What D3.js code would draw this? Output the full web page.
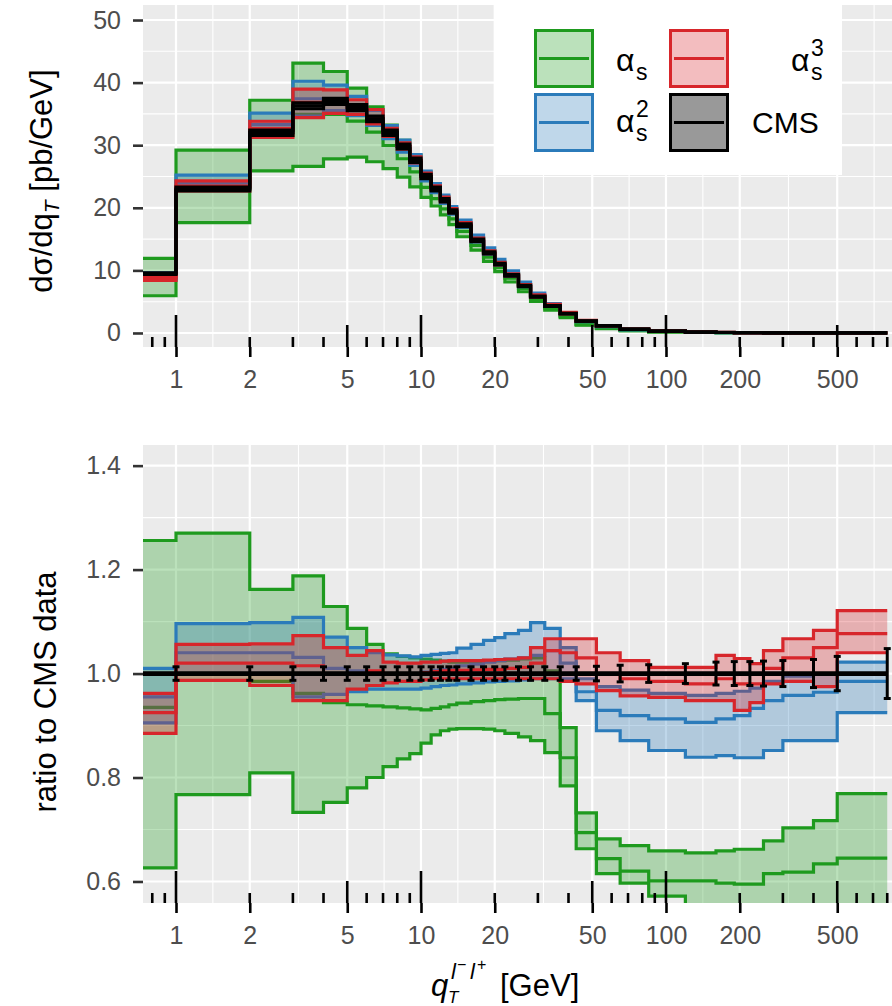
<!DOCTYPE html>
<html><head><meta charset="utf-8">
<script src="https://cdn.jsdelivr.net/npm/d3@7"></script>
<style>
body{margin:0;background:#fff}
svg{display:block}
text{font-family:"Liberation Sans",Arial,Helvetica,sans-serif}
</style>
</head><body>
<svg id="c" width="892" height="1006"></svg>
<script>
// ---------------- data ----------------
const binEdges = [0,1,2,3,4,5,6,7,8,9,10,11,12,13,14,16,18,20,22,25,28,32,37,43,52,65,85,120,160,190,220,250,300,400,500,800];
// CMS measurement dσ/dqT [pb/GeV]
const cmsValues = [9.5,23.0,32.0,36.3,37.0,36.0,34.2,32.0,29.8,27.6,25.0,23.0,21.2,19.4,17.2,14.8,12.8,11.0,9.2,7.5,5.8,4.3,3.1,1.9,1.15,0.6,0.3,0.14,0.08,0.05,0.035,0.02,0.01,0.005,0.002];
// CMS relative uncertainty (ratio error bar half height)
const cmsRelErr = [0.013,0.013,0.013,0.013,0.013,0.013,0.013,0.013,0.013,0.013,0.013,0.013,0.013,0.013,0.013,0.013,0.013,0.013,0.013,0.013,0.013,0.013,0.013,0.014,0.016,0.017,0.019,0.022,0.023,0.023,0.024,0.025,0.027,0.033,0.048];
// ratio to CMS data: alpha_s
const asHi  = [1.256,1.270,1.162,1.188,1.129,1.087,1.056,1.038,1.033,1.030,1.028,1.026,1.024,1.022,1.022,1.023,1.024,1.025,1.026,1.028,1.030,1.005,0.896,0.732,0.682,0.669,0.659,0.655,0.659,0.662,0.662,0.678,0.703,0.717,0.769];
const asMid = [0.935,1.000,0.985,0.962,0.944,0.940,0.938,0.936,0.934,0.932,0.930,0.933,0.936,0.940,0.943,0.946,0.948,0.950,0.951,0.952,0.952,0.923,0.838,0.694,0.644,0.620,0.601,0.601,0.597,0.595,0.595,0.615,0.618,0.634,0.645];
const asLo  = [0.626,0.767,0.809,0.733,0.752,0.780,0.800,0.821,0.836,0.846,0.866,0.882,0.890,0.893,0.894,0.894,0.893,0.890,0.885,0.878,0.871,0.848,0.784,0.663,0.615,0.597,0.572,0.540,0.535,0.535,0.535,0.540,0.545,0.550,0.555];
// alpha_s^2
const as2Hi  = [1.010,1.096,1.098,1.108,1.070,1.050,1.040,1.036,1.034,1.032,1.035,1.037,1.039,1.040,1.049,1.056,1.064,1.069,1.077,1.083,1.098,1.087,1.050,0.990,0.975,0.968,0.962,0.958,0.962,0.966,0.972,0.985,0.995,1.000,1.022];
const as2Mid = [0.955,1.040,1.040,1.031,1.010,1.005,1.002,1.000,1.000,1.000,1.003,1.006,1.008,1.010,1.015,1.018,1.022,1.025,1.028,1.030,1.035,1.044,1.020,0.965,0.929,0.919,0.913,0.906,0.913,0.919,0.933,0.948,0.958,0.964,0.985];
const as2Lo  = [0.905,1.000,1.000,0.955,0.960,0.965,0.970,0.970,0.970,0.970,0.972,0.975,0.977,0.978,0.980,0.982,0.984,0.985,0.986,0.988,0.990,0.990,0.990,0.948,0.890,0.871,0.852,0.839,0.842,0.838,0.838,0.852,0.871,0.871,0.925];
// alpha_s^3
const as3Hi  = [0.962,1.056,1.057,1.073,1.050,1.035,1.044,1.022,1.020,1.020,1.022,1.022,1.024,1.025,1.025,1.025,1.026,1.027,1.028,1.030,1.050,1.067,1.067,1.067,1.040,1.025,1.012,1.012,1.035,1.029,1.019,1.044,1.067,1.083,1.121];
const as3Mid = [0.925,1.020,1.020,1.015,1.000,1.000,1.005,1.000,1.000,1.000,1.002,1.004,1.005,1.006,1.006,1.007,1.008,1.008,1.010,1.012,1.020,1.044,1.040,1.030,1.000,0.990,0.985,0.980,0.990,0.980,0.980,1.010,1.030,1.050,1.077];
const as3Lo  = [0.885,0.987,0.977,0.948,0.948,0.970,0.977,0.982,0.985,0.985,0.988,0.990,0.990,0.990,0.990,0.990,0.990,0.990,0.990,0.990,0.990,0.990,0.985,0.980,0.967,0.957,0.954,0.948,0.948,0.929,0.944,0.980,0.985,0.975,1.040];

const xBreaks = [1,2,5,10,20,50,100,200,500];
const xTickLabels = ["1","2","5","10","20","50","100","200","500"];
const xMinorBreaks = [1.414,3.162,7.071,14.14,31.62,70.71,141.4,316.2,707.1];
const topYBreaks = [0,10,20,30,40,50];
const topYLabels = ["0","10","20","30","40","50"];
const topYMinor = [5,15,25,35,45];
const ratioYBreaks = [0.6,0.8,1.0,1.2,1.4];
const ratioYLabels = ["0.6","0.8","1.0","1.2","1.4"];
const ratioYMinor = [0.7,0.9,1.1,1.3];

// ---------------- layout ----------------
const svg = d3.select('#c');
const PL = 143, PR = 892;
const TOP = {y0:5, y1:347}, BOT = {y0:445, y1:903};
const x = d3.scaleLog().domain([0.7333, 836.6]).range([PL, PR]);
const yTop = d3.scaleLinear().domain([-2.24, 52.4]).range([TOP.y1, TOP.y0]);
const yRat = d3.scaleLinear().domain([0.5586, 1.4397]).range([BOT.y1, BOT.y0]);
const xv = e => x(Math.max(e, 0.5));

const series = [
  {key:'as',  color:'#1E9A1E', fill:'#1E9A1E', lo:asLo,  mid:asMid,  hi:asHi},
  {key:'as2', color:'#2B7BBA', fill:'#2B7BBA', lo:as2Lo, mid:as2Mid, hi:as2Hi},
  {key:'as3', color:'#D7262B', fill:'#D7262B', lo:as3Lo, mid:as3Mid, hi:as3Hi}
];

function drawPanel(P, yScale, yMajor, yMinor, id){
  const g = svg.append('g');
  g.append('rect').attr('x',PL).attr('y',P.y0).attr('width',PR-PL).attr('height',P.y1-P.y0).attr('fill','#EBEBEB');
  yMinor.forEach(v => g.append('line').attr('x1',PL).attr('x2',PR).attr('y1',yScale(v)).attr('y2',yScale(v)).attr('stroke','#fff').attr('stroke-width',1.1));
  xMinorBreaks.forEach(v => g.append('line').attr('x1',x(v)).attr('x2',x(v)).attr('y1',P.y0).attr('y2',P.y1).attr('stroke','#fff').attr('stroke-width',1.1));
  yMajor.forEach(v => g.append('line').attr('x1',PL).attr('x2',PR).attr('y1',yScale(v)).attr('y2',yScale(v)).attr('stroke','#fff').attr('stroke-width',2.2));
  xBreaks.forEach(v => g.append('line').attr('x1',x(v)).attr('x2',x(v)).attr('y1',P.y0).attr('y2',P.y1).attr('stroke','#fff').attr('stroke-width',2.2));
  svg.append('clipPath').attr('id',id).append('rect').attr('x',PL).attr('y',P.y0).attr('width',PR-PL).attr('height',P.y1-P.y0);
  return svg.append('g').attr('clip-path',`url(#${id})`);
}

function stepPts(vals){
  const pts = [];
  vals.forEach((v,i) => { pts.push([binEdges[i], v]); pts.push([binEdges[i+1], v]); });
  return pts;
}
function bandPts(lo, hi){
  const pts = [];
  lo.forEach((v,i) => { pts.push([binEdges[i], v, hi[i]]); pts.push([binEdges[i+1], v, hi[i]]); });
  return pts;
}

function drawSeries(g, yScale, lo, mid, hi, color, fill, fillOp){
  const area = d3.area().x(d=>xv(d[0])).y0(d=>yScale(d[1])).y1(d=>yScale(d[2]));
  const line = d3.line().x(d=>xv(d[0])).y(d=>yScale(d[1]));
  g.append('path').attr('d', area(bandPts(lo,hi))).attr('fill',fill).attr('fill-opacity',fillOp);
  [lo, hi, mid].forEach(arr => g.append('path').attr('d', line(stepPts(arr))).attr('fill','none').attr('stroke',color).attr('stroke-width',3.2));
}

// ---------- top panel ----------
const gTop = drawPanel(TOP, yTop, topYBreaks, topYMinor, 'clipTop');
series.forEach(s => {
  const lo = s.lo.map((r,i)=>r*cmsValues[i]);
  const mid = s.mid.map((r,i)=>r*cmsValues[i]);
  const hi = s.hi.map((r,i)=>r*cmsValues[i]);
  drawSeries(gTop, yTop, lo, mid, hi, s.color, s.fill, 0.3);
});
drawSeries(gTop, yTop,
  cmsValues.map((v,i)=>v*(1-cmsRelErr[i])), cmsValues, cmsValues.map((v,i)=>v*(1+cmsRelErr[i])),
  '#000', '#000', 0.35);

// ---------- ratio panel ----------
const gBot = drawPanel(BOT, yRat, ratioYBreaks, ratioYMinor, 'clipBot');
series.forEach(s => drawSeries(gBot, yRat, s.lo, s.mid, s.hi, s.color, s.fill, 0.3));
const cmsRatio = cmsValues.map(v => v / v);
gBot.append('path').attr('d', d3.line().x(d=>xv(d[0])).y(d=>yRat(d[1]))(stepPts(cmsRatio)))
  .attr('fill','none').attr('stroke','#000').attr('stroke-width',4.8);
cmsRatio.forEach((r,i) => {
  const xe = x(binEdges[i+1]);
  const ya = yRat(r - cmsRelErr[i]), yb = yRat(r + cmsRelErr[i]);
  gBot.append('line').attr('x1',xe).attr('x2',xe).attr('y1',ya).attr('y2',yb).attr('stroke','#000').attr('stroke-width',3);
  [ya,yb].forEach(yy => gBot.append('line').attr('x1',xe-3.5).attr('x2',xe+3.5).attr('y1',yy).attr('y2',yy).attr('stroke','#000').attr('stroke-width',3));
});

// ---------- axes ----------
function xAxis(P){
  const ax = svg.append('g').attr('transform',`translate(0,${P.y1})`)
    .call(d3.axisBottom(x).tickValues(xBreaks).tickFormat((d,i)=>xTickLabels[i]).tickSize(10).tickPadding(13));
  ax.select('.domain').remove();
  ax.selectAll('line').attr('stroke','#000').attr('stroke-width',2.6);
  ax.selectAll('text').attr('fill','#4D4D4D').style('font-size','25px');
  // log ticks inside panel
  const lt = svg.append('g');
  [0.1,1,10,100].forEach(dec => {
    for(let m=1;m<=9;m++){
      const v = m*dec;
      if(v < x.domain()[0] || v > x.domain()[1]) continue;
      const len = m===1 ? 32 : (m===5 ? 22 : 10);
      lt.append('line').attr('x1',x(v)).attr('x2',x(v)).attr('y1',P.y1).attr('y2',P.y1-len).attr('stroke','#000').attr('stroke-width',2.6);
    }
  });
}
function yAxis(yScale, breaks, labels){
  const ax = svg.append('g').attr('transform',`translate(${PL},0)`)
    .call(d3.axisLeft(yScale).tickValues(breaks).tickFormat((d,i)=>labels[i]).tickSize(10).tickPadding(12));
  ax.select('.domain').remove();
  ax.selectAll('line').attr('stroke','#333').attr('stroke-width',2.6);
  ax.selectAll('text').attr('fill','#4D4D4D').style('font-size','25px');
}
xAxis(TOP); xAxis(BOT);
yAxis(yTop, topYBreaks, topYLabels);
yAxis(yRat, ratioYBreaks, ratioYLabels);

// ---------- titles ----------
const t1 = svg.append('text').attr('transform','translate(52,181) rotate(-90)').attr('text-anchor','middle').style('font-size','31px').attr('fill','#000');
t1.append('tspan').text('dσ/dq');
t1.append('tspan').text('T').style('font-size','21px').style('font-style','italic').attr('dy',7);
t1.append('tspan').text(' [pb/GeV]').attr('dy',-7);

svg.append('text').attr('transform','translate(56,692) rotate(-90)').attr('text-anchor','middle').style('font-size','31px').attr('fill','#000').text('ratio to CMS data');

const xt = svg.append('text').attr('fill','#000');
xt.append('tspan').attr('x',431).attr('y',996).style('font-size','31px').style('font-style','italic').text('q');
xt.append('tspan').attr('x',448).attr('y',1003).style('font-size','17px').style('font-style','italic').text('T');
xt.append('tspan').attr('x',451).attr('y',979).style('font-size','22px').style('font-style','italic').text('l');
xt.append('tspan').attr('x',457).attr('y',970).style('font-size','16px').text('−');
xt.append('tspan').attr('x',470).attr('y',979).style('font-size','22px').style('font-style','italic').text('l');
xt.append('tspan').attr('x',477).attr('y',970).style('font-size','16px').text('+');
xt.append('tspan').attr('x',500).attr('y',996).style('font-size','31px').text('[GeV]');

// ---------- legend ----------
const lg = svg.append('g');
lg.append('rect').attr('x',495).attr('y',5).attr('width',347).attr('height',170).attr('fill','#fff');
const legendKeys = [
  {x:534, y:29, color:'#1E9A1E', op:0.3},
  {x:534, y:93, color:'#2B7BBA', op:0.3},
  {x:669, y:29, color:'#D7262B', op:0.3},
  {x:669, y:93, color:'#000',    op:0.4}
];
legendKeys.forEach(k => {
  lg.append('rect').attr('x',k.x+1.5).attr('y',k.y+1.5).attr('width',57).attr('height',56)
    .attr('fill',k.color).attr('fill-opacity',k.op).attr('stroke',k.color).attr('stroke-width',3);
  lg.append('line').attr('x1',k.x+5).attr('x2',k.x+55).attr('y1',k.y+29.5).attr('y2',k.y+29.5).attr('stroke',k.color).attr('stroke-width',3);
});
function alphaLabel(xa, ya, sup){
  const t = lg.append('text');
  t.append('tspan').attr('x',xa).attr('y',ya).style('font-size','32px').text('α');
  t.append('tspan').attr('x',xa+20).attr('y',ya+9).style('font-size','23px').text('s');
  if(sup) t.append('tspan').attr('x',xa+20).attr('y',ya-15).style('font-size','23px').text(sup);
}
alphaLabel(616, 71, null);
alphaLabel(616, 132, '2');
alphaLabel(791, 71, '3');
lg.append('text').attr('x',752).attr('y',133).style('font-size','30px').text('CMS');
</script>
</body></html>
